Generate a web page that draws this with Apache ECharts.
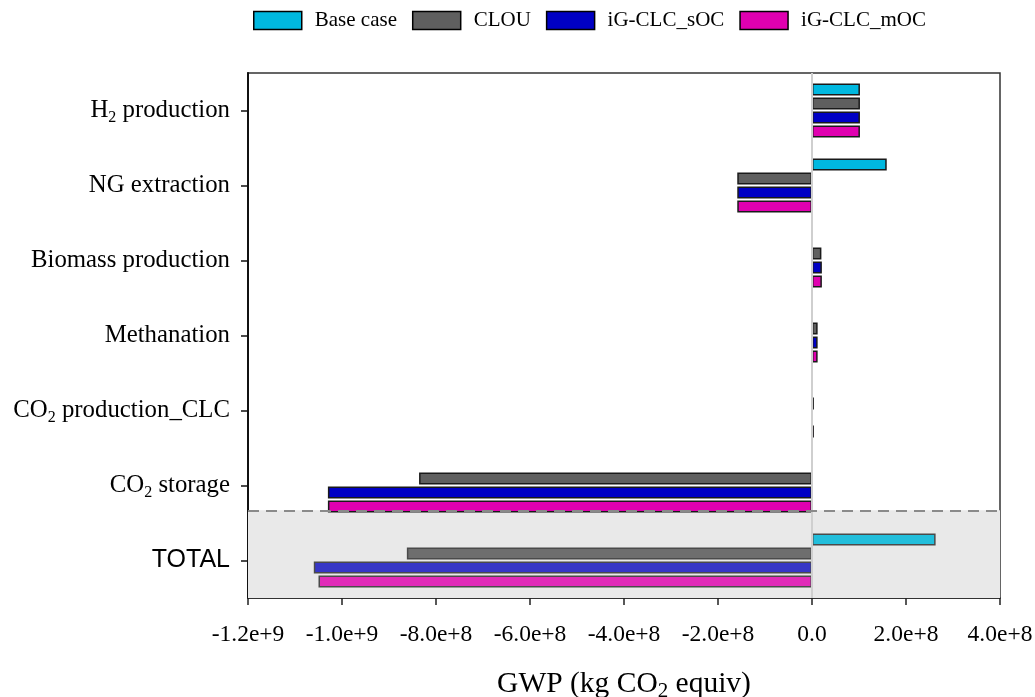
<!DOCTYPE html>
<html>
<head>
<meta charset="utf-8">
<script src="https://cdn.jsdelivr.net/npm/echarts@6/dist/echarts.min.js"></script>
<style>html,body{margin:0;padding:0;background:#fff;}#chart{width:1035px;height:697px;}</style>
</head>
<body>
<div id="chart"></div>
<script>
// ---- data ----
const categories = ['H2 production', 'NG extraction', 'Biomass production', 'Methanation', 'CO2 production_CLC', 'CO2 storage', 'TOTAL'];
const seriesNames = ['Base case', 'CLOU', 'iG-CLC_sOC', 'iG-CLC_mOC'];
const baseCase = [1.02e8, 1.59e8, null, null, null, null, 2.63e8];
const clou     = [1.02e8, -1.59e8, 2.0e7, 1.2e7, 4.0e6, -8.36e8, -8.62e8];
const igSOC    = [1.02e8, -1.59e8, 2.1e7, 1.2e7, null, -1.03e9, -1.06e9];
const igMOC    = [1.02e8, -1.59e8, 2.1e7, 1.2e7, 4.0e6, -1.03e9, -1.05e9];
const xTickLabels = ['-1.2e+9', '-1.0e+9', '-8.0e+8', '-6.0e+8', '-4.0e+8', '-2.0e+8', '0.0', '2.0e+8', '4.0e+8'];
const xMin = -1.2e9, xMax = 4e8, xStep = 2e8;
const totalSplit = 5.83; // position of dashed separator in category units

const colors = ['#00b8e0', '#5f5f5f', '#0000c4', '#e000b0'];
const totalColors = ['#22bedb', '#6e6e6e', '#3636c6', '#e02ab8'];
const serif = 'Liberation Serif, Times New Roman, serif';

function fmtCat(v) {
  if (v === 'TOTAL') return '{t|TOTAL}';
  const m = v.match(/^(H|CO)2(.*)$/);
  if (m) return '{n|' + m[1] + '}{s|2}{n|' + m[2] + '}';
  return '{n|' + v + '}';
}

const allData = [baseCase, clou, igSOC, igMOC];
const barSeries = allData.map((arr, i) => ({
  name: seriesNames[i],
  type: 'bar',
  xAxisIndex: 0, yAxisIndex: 0,
  barWidth: 12,
  barGap: '17%',
  z: 3,
  itemStyle: { color: colors[i], borderColor: '#1a1a1a', borderWidth: 1.5 },
  data: arr.map((v, j) => categories[j] === 'TOTAL'
    ? { value: v, itemStyle: { color: totalColors[i], borderColor: '#4a4a4a' } }
    : v)
}));

const helper = [
  {
    type: 'line', xAxisIndex: 0, yAxisIndex: 1, data: [], z: 1, silent: true,
    markArea: { silent: true, itemStyle: { color: '#e9e9e9' },
      data: [[{ coord: [xMin, totalSplit] }, { coord: [xMax, categories.length] }]] },
    markLine: { silent: true, symbol: 'none', label: { show: false },
      lineStyle: { color: '#cfcfcf', width: 2, type: 'solid' },
      data: [[{ coord: [0, 0] }, { coord: [0, categories.length] }]] }
  },
  {
    type: 'line', xAxisIndex: 0, yAxisIndex: 1, data: [], z: 6, silent: true,
    markLine: { silent: true, symbol: 'none', label: { show: false },
      lineStyle: { color: '#8a8a8a', width: 2, type: [11, 7] },
      data: [[{ coord: [xMin, totalSplit] }, { coord: [xMax, totalSplit] }]] }
  }
];

const chart = echarts.init(document.getElementById('chart'));
chart.setOption({
  animation: false,
  backgroundColor: '#fff',
  legend: {
    left: 253, top: 10, padding: 0,
    icon: 'rect',
    itemWidth: 48, itemHeight: 18, itemGap: 15,
    data: seriesNames,
    itemStyle: { borderColor: '#000', borderWidth: 1.5 },
    textStyle: { fontFamily: serif, fontSize: 21, color: '#000', padding: [0, 0, 0, 8] }
  },
  grid: { left: 248, right: 35, top: 73, bottom: 99, outerBoundsMode: 'none', containLabel: false,
    show: true, borderColor: '#333', borderWidth: 1.5, backgroundColor: 'transparent' },
  xAxis: [{
    type: 'value', min: xMin, max: xMax, interval: xStep,
    axisLine: { show: true, onZero: false, lineStyle: { color: '#222', width: 1.5 } },
    axisTick: { show: true, inside: false, length: 7, lineStyle: { color: '#222', width: 1.5 } },
    splitLine: { show: false },
    axisLabel: {
      margin: 25, fontFamily: serif, fontSize: 23.5, color: '#000',
      formatter: v => xTickLabels[Math.round((v - xMin) / xStep)]
    },
    name: '{n|GWP (kg CO}{s|2}{n| equiv)}',
    nameLocation: 'middle', nameGap: 69,
    nameTextStyle: {
      rich: {
        n: { fontFamily: serif, fontSize: 29.5, color: '#000' },
        s: { fontFamily: serif, fontSize: 21, color: '#000', padding: [14, 0, 0, 0] }
      }
    }
  }],
  yAxis: [{
    type: 'category', data: categories, inverse: true,
    axisLine: { show: true, onZero: false, lineStyle: { color: '#111', width: 2 } },
    axisTick: { show: true, alignWithLabel: true, interval: 0, length: 7, lineStyle: { color: '#111', width: 1.5 } },
    axisLabel: {
      margin: 18, interval: 0,
      formatter: fmtCat,
      rich: {
        n: { fontFamily: serif, fontSize: 24.8, color: '#000' },
        s: { fontFamily: serif, fontSize: 16, color: '#000', padding: [14, 0, 0, 0] },
        t: { fontFamily: 'Liberation Sans, Arial, sans-serif', fontSize: 25, color: '#000' }
      }
    },
    splitLine: { show: false }
  }, {
    type: 'value', min: 0, max: categories.length, inverse: true, show: false
  }],
  series: barSeries.concat(helper)
});
</script>
</body>
</html>
